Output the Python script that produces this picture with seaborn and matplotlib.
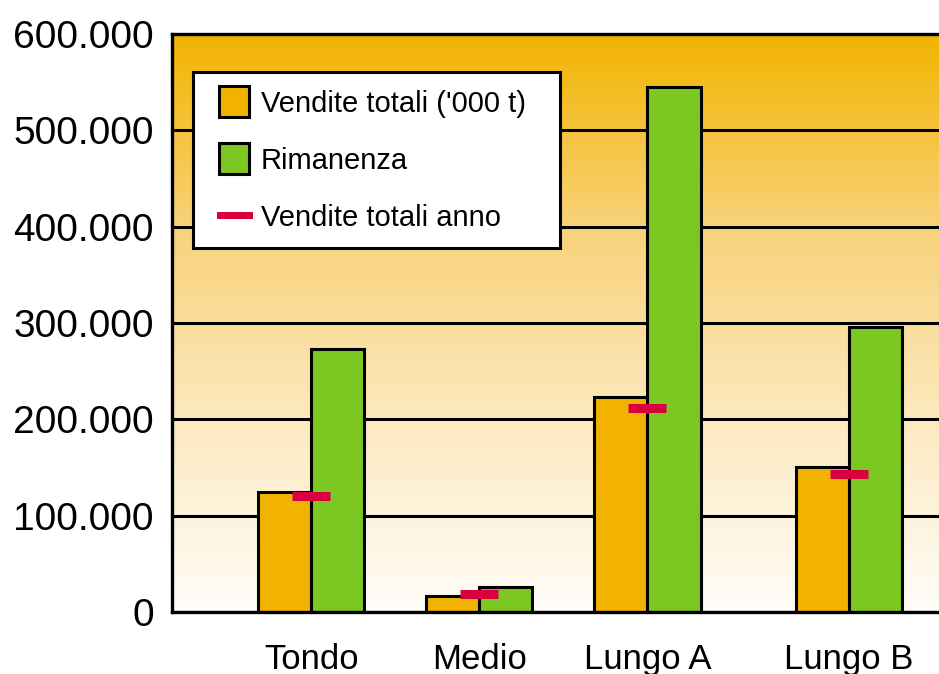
import numpy as np
import pandas as pd
import matplotlib
matplotlib.use("Agg")
import matplotlib.pyplot as plt
from matplotlib.patches import Patch, Rectangle
from matplotlib.legend_handler import HandlerPatch
from matplotlib.colors import LinearSegmentedColormap
import seaborn as sns

# Data
categories = ["Tondo", "Medio", "Lungo A", "Lungo B"]
vendite_totali = [125000, 17000, 223000, 151000]
rimanenza = [273000, 26000, 545000, 296000]
vendite_anno = [120000, 19000, 212000, 143000]
y_ticks = [0, 100000, 200000, 300000, 400000, 500000, 600000]
y_tick_labels = ["0", "100.000", "200.000", "300.000", "400.000", "500.000", "600.000"]
series_names = ["Vendite totali ('000 t)", "Rimanenza", "Vendite totali anno"]

# Layout: group centres along the x axis
group_pos = [0.0, 1.0, 2.0, 3.2]

ORANGE = "#F2B300"
GREEN = "#7DC723"
RED = "#D9003F"

sns.set_theme(style="white")
plt.rcParams["font.family"] = ["Liberation Sans", "DejaVu Sans"]
plt.rcParams["text.color"] = "black"

df = pd.DataFrame({
    "pos": group_pos * 2,
    "value": vendite_totali + rimanenza,
    "serie": [series_names[0]] * 4 + [series_names[1]] * 4,
})

fig = plt.figure(figsize=(9.39, 6.74), dpi=100)
ax = fig.add_axes([172 / 939, 1 - 612 / 674, 1 - 172 / 939 + 0.01, (612 - 34) / 674])

# Vertical orange-to-white gradient behind the plot
grad_cmap = LinearSegmentedColormap.from_list("bg", ["#FFFDF9", "#FCE9BE", "#F8D27A", "#F2B400"])
grad = np.linspace(0, 1, 256).reshape(-1, 1)
ax.imshow(grad, cmap=grad_cmap, origin="lower", aspect="auto",
          extent=[0, 1, 0, 1], transform=ax.transAxes, zorder=-1)

sns.barplot(data=df, x="pos", y="value", hue="serie", native_scale=True,
            palette=[ORANGE, GREEN], width=0.632, dodge=True, gap=0,
            edgecolor="black", linewidth=2.2, saturation=1, ax=ax, legend=False, zorder=2)

# Annual sales markers at each group centre
ax.scatter(group_pos, vendite_anno, marker="_", s=27 ** 2, linewidths=6.5,
           color=RED, zorder=4)

ax.set_xlim(-0.827, 3.79)
ax.set_ylim(0, 600000)
ax.set_yticks(y_ticks)
ax.set_yticklabels(y_tick_labels, fontsize=28, color="black")
ax.set_xticks(group_pos)
ax.set_xticklabels(categories, fontsize=25, color="black")
ax.tick_params(axis="y", length=0, pad=13)
ax.tick_params(axis="x", length=0, pad=22)
ax.set_xlabel("")
ax.set_ylabel("")

ax.yaxis.grid(True, color="black", linewidth=2.2)
ax.xaxis.grid(False)
ax.set_axisbelow(True)
for side in ["left", "top", "bottom"]:
    ax.spines[side].set_color("black")
    ax.spines[side].set_linewidth(2.4)
ax.spines["right"].set_visible(False)


def box_handle(x0, w, h):
    """Legend key drawn as a rectangle inset inside the handle box (sizes in points)."""
    def make(legend, orig_handle, xdescent, ydescent, width, height, fontsize):
        y0 = -ydescent + (height - h) / 2
        return Rectangle((-xdescent + x0, y0), w, h)
    return HandlerPatch(patch_func=make)


handles = [
    Patch(facecolor=ORANGE, edgecolor="black", linewidth=2.2),
    Patch(facecolor=GREEN, edgecolor="black", linewidth=2.2),
    Patch(facecolor=RED, edgecolor="none", linewidth=0),
]
handler_map = {
    handles[0]: box_handle(7.2, 21.6, 22.3),
    handles[1]: box_handle(7.2, 21.6, 22.3),
    handles[2]: box_handle(5.5, 26.0, 5.0),
}
leg = ax.legend(handles, series_names, loc="upper left", handler_map=handler_map,
                bbox_to_anchor=((193 - 172) / 767, (612 - 72) / 578, 362 / 767, 0.0),
                mode="expand", borderaxespad=0, fontsize=21, frameon=True,
                fancybox=False, framealpha=1, edgecolor="black",
                handlelength=1.37, handleheight=1.06, handletextpad=0.39,
                labelspacing=0.94, borderpad=0.55)
leg.get_frame().set_linewidth(2.2)
leg.set_zorder(5)

fig.savefig("out.png", dpi=100)
